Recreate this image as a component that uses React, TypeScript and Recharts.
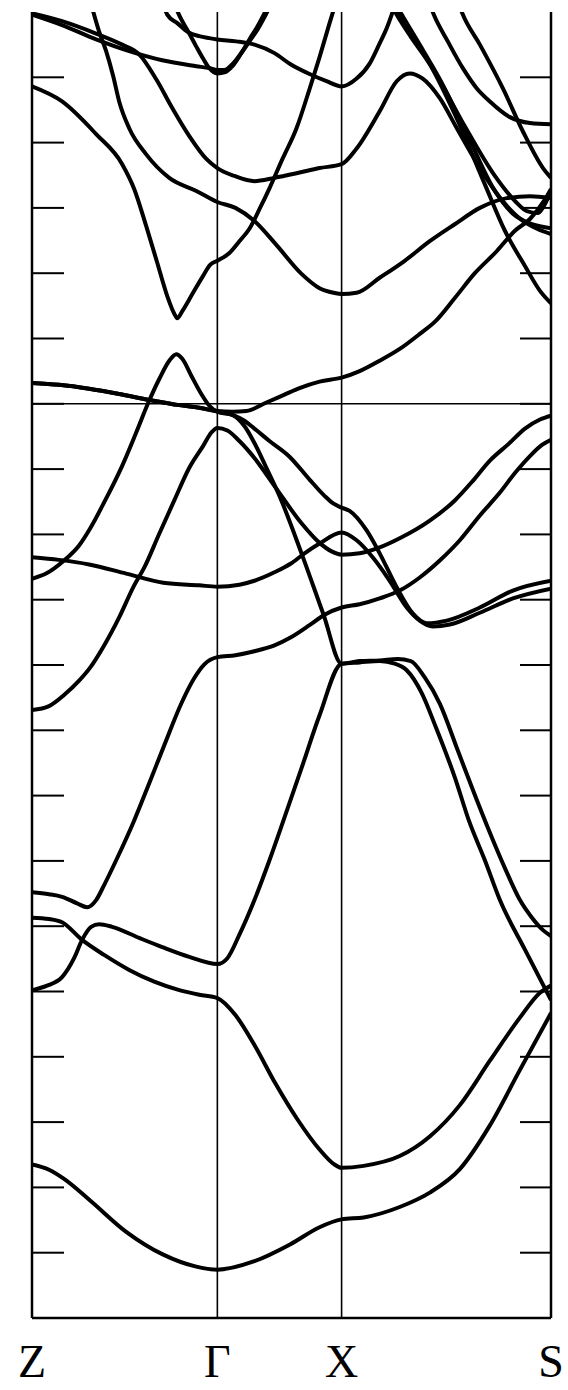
import React from 'react'
import { Line, LineChart, ReferenceLine, XAxis, YAxis } from 'recharts'

// high-symmetry points along the k-path
const kLabels = ['Z', 'Γ', 'X', 'S']
const kTicks = [0, 1.85, 3.09, 5.18]
const energyTicks = [-13, -12, -11, -10, -9, -8, -7, -6, -5, -4, -3, -2, -1, 0, 1, 2, 3, 4, 5]

// each band: [k, E] pairs
const band01 = [[0, -11.65], [0.17, -11.73], [0.32, -11.87], [0.58, -12.2], [0.94, -12.68], [1.31, -13.03], [1.63, -13.21], [1.85, -13.26], [2.22, -13.13], [2.58, -12.87], [2.87, -12.61], [3.09, -12.49], [3.31, -12.46], [3.67, -12.3], [3.97, -12.08], [4.27, -11.72], [4.57, -11.05], [4.87, -10.2], [5.18, -9.33]]
const band02 = [[0, -7.87], [0.17, -7.89], [0.3, -7.94], [0.5, -8.21], [0.72, -8.44], [0.97, -8.67], [1.22, -8.85], [1.47, -8.98], [1.67, -9.05], [1.85, -9.1], [2.03, -9.36], [2.22, -9.82], [2.43, -10.41], [2.65, -10.96], [2.87, -11.42], [3.01, -11.64], [3.09, -11.7], [3.31, -11.67], [3.67, -11.52], [3.97, -11.22], [4.27, -10.74], [4.57, -10.06], [4.87, -9.4], [5.07, -9.02], [5.18, -8.91]]
const band03 = [[0, -8.98], [0.15, -8.91], [0.3, -8.78], [0.42, -8.49], [0.5, -8.21], [0.59, -8.01], [0.67, -7.97], [0.8, -8.01], [1.07, -8.18], [1.3, -8.32], [1.57, -8.47], [1.85, -8.58], [1.95, -8.49], [2.07, -8.13], [2.22, -7.6], [2.37, -6.99], [2.51, -6.38], [2.69, -5.58], [2.87, -4.77], [3.09, -3.98], [3.27, -3.96], [3.47, -3.94], [3.62, -3.98], [3.74, -4.08], [3.89, -4.43], [4.03, -4.95], [4.22, -5.72], [4.36, -6.38], [4.52, -6.99], [4.67, -7.6], [4.92, -8.36], [5.18, -9.13]]
const band04 = [[0, -7.48], [0.17, -7.51], [0.3, -7.55], [0.45, -7.65], [0.55, -7.71], [0.64, -7.6], [0.72, -7.37], [0.84, -6.99], [1.02, -6.38], [1.17, -5.81], [1.32, -5.23], [1.49, -4.59], [1.62, -4.2], [1.72, -3.99], [1.85, -3.88], [2.03, -3.85], [2.22, -3.79], [2.42, -3.7], [2.58, -3.58], [2.77, -3.39], [2.92, -3.23], [3.09, -3.12], [3.27, -3.07], [3.47, -2.98], [3.67, -2.86], [3.87, -2.66], [4.07, -2.4], [4.27, -2.09], [4.47, -1.71], [4.67, -1.36], [4.82, -1.06], [4.97, -0.8], [5.09, -0.63], [5.18, -0.55]]
const band05 = [[0, -4.69], [0.17, -4.63], [0.32, -4.46], [0.47, -4.24], [0.58, -4.04], [0.72, -3.7], [0.87, -3.27], [1.02, -2.78], [1.12, -2.51], [1.27, -1.99], [1.42, -1.48], [1.57, -0.98], [1.71, -0.64], [1.79, -0.44], [1.85, -0.37], [1.95, -0.41], [2.07, -0.57], [2.22, -0.83], [2.43, -1.28], [2.69, -1.83], [2.87, -2.13], [2.99, -2.26], [3.09, -2.31], [3.27, -2.29], [3.47, -2.2], [3.67, -2.06], [3.97, -1.79], [4.22, -1.48], [4.4, -1.18], [4.57, -0.87], [4.76, -0.61], [4.92, -0.38], [5.07, -0.24], [5.18, -0.18]]
const band06 = [[0, -2.35], [0.27, -2.39], [0.57, -2.46], [0.94, -2.6], [1.31, -2.74], [1.67, -2.78], [1.85, -2.8], [2.07, -2.77], [2.22, -2.71], [2.42, -2.58], [2.58, -2.45], [2.72, -2.29], [2.87, -2.14], [3.09, -1.97], [3.24, -2.09], [3.4, -2.35], [3.57, -2.71], [3.74, -3.12], [3.87, -3.32], [4.0, -3.41], [4.17, -3.38], [4.47, -3.2], [4.8, -2.98], [5.18, -2.83]]
const band07 = [[0, -2.68], [0.14, -2.6], [0.32, -2.4], [0.47, -2.17], [0.58, -1.91], [0.72, -1.51], [0.9, -0.95], [1.04, -0.44], [1.17, 0.05], [1.27, 0.38], [1.37, 0.66], [1.44, 0.76], [1.5, 0.69], [1.59, 0.43], [1.69, 0.15], [1.77, -0.03], [1.85, -0.12], [2.0, -0.17], [2.12, -0.26], [2.22, -0.38], [2.37, -0.57], [2.57, -0.81], [2.77, -1.16], [2.92, -1.41], [3.01, -1.53], [3.09, -1.59], [3.17, -1.64], [3.34, -1.94], [3.47, -2.29], [3.64, -2.81], [3.8, -3.21], [3.94, -3.36], [4.14, -3.32], [4.47, -3.12], [4.8, -2.86], [5.18, -2.71]]
const band08 = [[0, 0.32], [0.27, 0.29], [0.57, 0.23], [0.87, 0.15], [1.17, 0.06], [1.47, -0.02], [1.67, -0.06], [1.85, -0.11], [2.0, -0.12], [2.14, -0.11], [2.34, 0.02], [2.52, 0.14], [2.67, 0.24], [2.87, 0.34], [3.09, 0.4], [3.27, 0.5], [3.47, 0.66], [3.67, 0.84], [3.87, 1.07], [4.03, 1.27], [4.22, 1.62], [4.42, 2.0], [4.64, 2.34], [4.82, 2.65], [4.97, 2.83], [5.12, 3.13], [5.18, 3.29]]
const band09 = [[0, 0.32], [0.27, 0.29], [0.57, 0.23], [0.87, 0.15], [1.17, 0.06], [1.47, -0.02], [1.67, -0.06], [1.85, -0.12], [2.0, -0.17], [2.12, -0.34], [2.22, -0.6], [2.33, -0.95], [2.47, -1.41], [2.69, -2.29], [2.91, -3.23], [3.09, -3.98], [3.27, -3.94], [3.47, -3.93], [3.65, -3.91], [3.78, -3.94], [3.92, -4.19], [4.07, -4.59], [4.25, -5.31], [4.42, -5.99], [4.56, -6.53], [4.72, -7.11], [4.87, -7.6], [4.99, -7.87], [5.1, -8.06], [5.18, -8.15]]
const band10 = [[0, 4.86], [0.3, 4.63], [0.64, 4.13], [0.9, 3.67], [1.02, 3.29], [1.14, 2.72], [1.25, 2.16], [1.35, 1.65], [1.42, 1.38], [1.45, 1.31], [1.5, 1.42], [1.6, 1.68], [1.7, 1.94], [1.78, 2.13], [1.85, 2.19], [1.97, 2.31], [2.07, 2.49], [2.17, 2.68], [2.27, 2.98], [2.37, 3.3], [2.5, 3.75], [2.64, 4.22], [2.77, 4.82], [2.87, 5.31], [2.97, 5.83], [3.03, 6.13]]
const band11 = [[0.59, 6.12], [0.67, 5.7], [0.74, 5.4], [0.81, 5.02], [0.87, 4.63], [0.97, 4.22], [1.14, 3.82], [1.37, 3.46], [1.64, 3.26], [1.85, 3.09], [2.03, 3.0], [2.22, 2.8], [2.43, 2.45], [2.69, 1.99], [2.87, 1.77], [3.01, 1.7], [3.09, 1.68], [3.24, 1.7], [3.47, 1.93], [3.72, 2.19], [3.97, 2.49], [4.22, 2.75], [4.47, 3.0], [4.74, 3.15], [4.97, 3.18], [5.18, 3.15]]
const band12 = [[0, 5.98], [0.3, 5.86], [0.64, 5.67], [0.9, 5.5], [1.07, 5.35], [1.24, 4.97], [1.4, 4.53], [1.57, 4.1], [1.74, 3.75], [1.85, 3.61], [2.02, 3.49], [2.22, 3.41], [2.42, 3.46], [2.64, 3.53], [2.87, 3.61], [3.09, 3.67], [3.24, 3.91], [3.47, 4.48], [3.64, 4.94], [3.77, 5.06], [3.9, 4.98], [4.07, 4.68], [4.24, 4.22], [4.47, 3.61], [4.7, 3.1], [4.9, 2.8], [5.04, 2.68], [5.18, 2.6]]
const band13 = [[0, 5.96], [0.3, 5.8], [0.64, 5.58], [0.97, 5.4], [1.3, 5.26], [1.64, 5.17], [1.77, 5.14], [1.85, 5.11], [1.92, 5.11], [2.0, 5.2], [2.1, 5.4], [2.17, 5.58], [2.25, 5.78], [2.32, 5.98], [2.37, 6.13]]
const band14 = [[1.31, 6.12], [1.35, 5.96], [1.45, 5.83], [1.56, 5.69], [1.67, 5.63], [1.77, 5.6], [1.85, 5.58], [2.04, 5.55], [2.22, 5.5], [2.42, 5.37], [2.58, 5.2], [2.77, 5.05], [2.94, 4.94], [3.09, 4.86], [3.24, 4.98], [3.37, 5.21], [3.47, 5.52], [3.54, 5.75], [3.59, 5.96], [3.62, 6.1]]
const band15 = [[1.42, 6.12], [1.47, 5.95], [1.57, 5.67], [1.64, 5.47], [1.71, 5.28], [1.77, 5.14], [1.85, 5.06], [1.93, 5.08], [2.0, 5.17], [2.09, 5.37], [2.17, 5.55], [2.25, 5.73], [2.33, 5.95], [2.38, 6.1]]
const band16 = [[3.97, 6.12], [4.01, 5.96], [4.15, 5.55], [4.3, 5.14], [4.44, 4.83], [4.57, 4.63], [4.77, 4.39], [4.97, 4.3], [5.18, 4.28]]
const band17 = [[4.26, 6.12], [4.3, 5.96], [4.47, 5.5], [4.7, 4.83], [4.9, 4.17], [5.1, 3.61], [5.18, 3.46]]
const band18 = [[3.58, 6.12], [3.64, 5.96], [3.79, 5.6], [3.97, 5.2], [4.23, 4.4], [4.52, 3.36], [4.72, 2.65], [4.92, 2.11], [5.07, 1.73], [5.18, 1.54]]
const band19 = [[3.61, 6.12], [3.67, 5.96], [3.82, 5.58], [4.03, 5.06], [4.32, 4.25], [4.62, 3.49], [4.83, 3.09], [4.94, 2.95], [5.05, 2.92], [5.12, 3.06], [5.18, 3.26]]
const band20 = [[3.63, 6.12], [3.69, 5.96], [3.85, 5.55], [4.07, 4.97], [4.35, 4.1], [4.62, 3.26], [4.8, 2.91], [4.99, 2.75], [5.18, 2.69]]

const bands = [band01, band02, band03, band04, band05, band06, band07, band08, band09, band10,
  band11, band12, band13, band14, band15, band16, band17, band18, band19, band20]

const toPoints = (band: number[][]) => band.map(([k, e]) => ({ k, e }))

const tickFont = { fontSize: 46, fontFamily: 'Liberation Serif', fill: '#000' }

const CHART_W = 568
const CHART_H = 1390
const MARGIN = { top: 12, right: 16, bottom: 0, left: 32 }
const AXIS_W = 1
// distance from the left axis line to the right one
const FRAME_W = CHART_W - MARGIN.left - MARGIN.right

// inward tick marks on both sides of the frame, drawn once per energy tick
const InwardTicks = (props: any) => {
  const { x, y } = props
  return (
    <g>
      <line x1={x} x2={x + 32} y1={y} y2={y} stroke="#000" strokeWidth={2} />
      <line x1={x + FRAME_W - 32} x2={x + FRAME_W} y1={y} y2={y} stroke="#000" strokeWidth={2} />
    </g>
  )
}

export default function App() {
  return (
    <div style={{ position: 'absolute', left: 0, top: 0, width: CHART_W, height: CHART_H, background: '#fff' }}>
      <LineChart width={CHART_W} height={CHART_H} margin={MARGIN}>
        <XAxis
          xAxisId="k" type="number" dataKey="k" domain={[0, 5.18]} ticks={kTicks} interval={0}
          tickFormatter={(v) => kLabels[kTicks.indexOf(v)]}
          height={72} tickSize={0} tickMargin={26} tickLine={false} tick={tickFont}
          axisLine={{ stroke: '#000', strokeWidth: 2.5 }} allowDataOverflow
        />
        <XAxis
          xAxisId="top" orientation="top" type="number" domain={[0, 5.18]} height={0}
          tick={false} tickLine={false} axisLine={{ stroke: '#000', strokeWidth: 4 }}
        />
        <YAxis
          yAxisId="e" type="number" domain={[-14, 6]} ticks={energyTicks} interval={0} allowDataOverflow
          width={AXIS_W} mirror tickSize={0} tickMargin={0} tickLine={false} tick={InwardTicks}
          axisLine={{ stroke: '#000', strokeWidth: 2.5 }}
        />
        <YAxis
          yAxisId="right" orientation="right" type="number" domain={[-14, 6]} width={AXIS_W}
          tick={false} tickLine={false} axisLine={{ stroke: '#000', strokeWidth: 2.5 }}
        />
        <ReferenceLine xAxisId="k" yAxisId="e" x={kTicks[1]} stroke="#000" strokeWidth={1.6} />
        <ReferenceLine xAxisId="k" yAxisId="e" x={kTicks[2]} stroke="#000" strokeWidth={1.6} />
        <ReferenceLine xAxisId="k" yAxisId="e" y={0} stroke="#000" strokeWidth={1.6} />
        {bands.map((b, i) => (
          <Line
            key={i} xAxisId="k" yAxisId="e" data={toPoints(b)} dataKey="e" type="monotone"
            dot={false} activeDot={false} stroke="#000" strokeWidth={4} strokeLinejoin="round"
            isAnimationActive={false}
          />
        ))}
      </LineChart>
    </div>
  )
}
